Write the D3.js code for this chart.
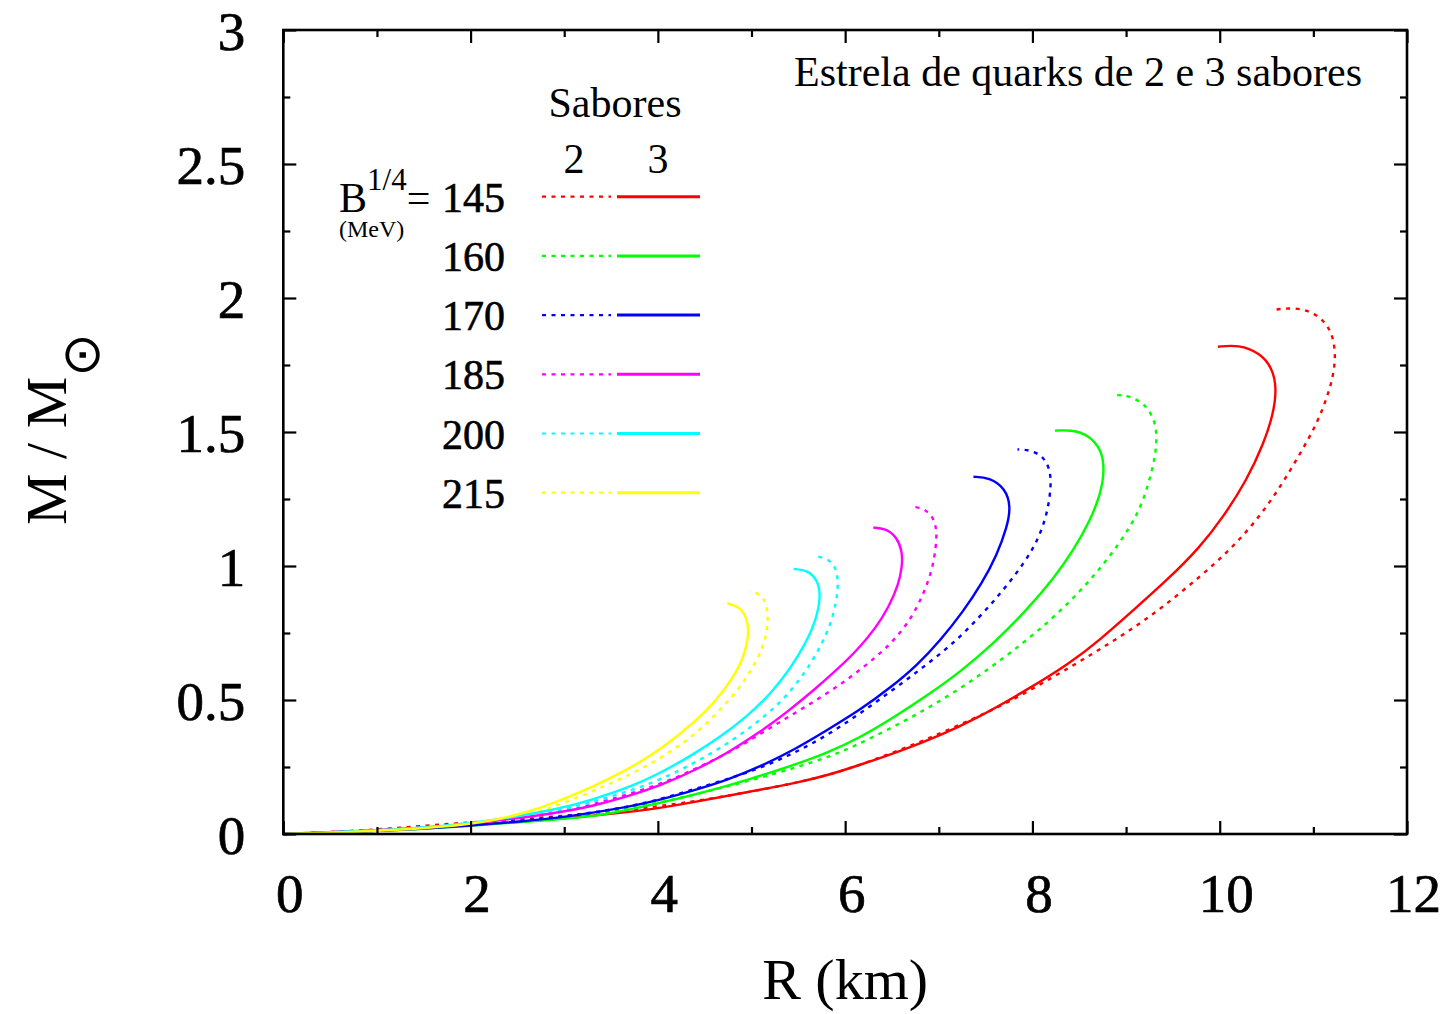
<!DOCTYPE html>
<html>
<head>
<meta charset="utf-8">
<script src="https://cdn.jsdelivr.net/npm/d3@7"></script>
<style>
  html, body { margin: 0; padding: 0; background: #fff; }
  svg { display: block; }
  text { font-family: "Liberation Serif", "Times New Roman", "DejaVu Serif", serif; fill: #000; }
</style>
</head>
<body>
<svg id="chart" width="1451" height="1014"></svg>
<script>
// ---------------- DATA ----------------
const bagValues = [145, 160, 170, 185, 200, 215];
const xTickValues = [0, 2, 4, 6, 8, 10, 12];
const yTickValues = [0, 0.5, 1, 1.5, 2, 2.5, 3];
const yTickLabels = ["0", "0.5", "1", "1.5", "2", "2.5", "3"];

// [R (km), M/Msun] — 3 flavours (solid)
const s3_145 = [[0,0],[1,0.012],[2,0.033],[2.96,0.056],[3.9,0.088],[4.4,0.12],[4.95,0.156],[5.5,0.192],[5.84,0.222],[6.16,0.258],[6.62,0.313],[7.02,0.369],[7.37,0.425],[7.94,0.537],[8.40,0.637],[8.73,0.727],[9.08,0.836],[9.44,0.948],[9.79,1.07],[10.04,1.184],[10.29,1.321],[10.47,1.458],[10.57,1.563],[10.61,1.663],[10.56,1.74],[10.43,1.795],[10.2,1.826],[9.98,1.818]];
const s3_160 = [[0,0],[1,0.01],[2,0.03],[2.96,0.055],[3.38,0.067],[4.02,0.115],[4.52,0.158],[4.95,0.201],[5.45,0.257],[5.81,0.303],[6.16,0.36],[6.52,0.435],[6.91,0.525],[7.23,0.605],[7.59,0.712],[7.94,0.836],[8.23,0.955],[8.44,1.06],[8.62,1.172],[8.73,1.271],[8.77,1.358],[8.74,1.433],[8.6,1.49],[8.41,1.508],[8.24,1.505]];
const s3_170 = [[0,0],[1,0.01],[2,0.03],[2.96,0.06],[3.31,0.08],[3.67,0.10],[4.02,0.127],[4.38,0.162],[4.74,0.201],[5.09,0.251],[5.45,0.313],[5.81,0.388],[6.16,0.463],[6.48,0.545],[6.77,0.63],[7.02,0.724],[7.26,0.83],[7.46,0.935],[7.62,1.04],[7.73,1.147],[7.77,1.221],[7.71,1.29],[7.54,1.330],[7.37,1.333]];
const s3_185 = [[0,0],[1,0.012],[2,0.035],[2.96,0.08],[3.31,0.105],[3.67,0.139],[4.02,0.18],[4.38,0.235],[4.74,0.301],[5.09,0.38],[5.38,0.455],[5.66,0.535],[5.91,0.612],[6.14,0.69],[6.33,0.77],[6.47,0.85],[6.57,0.93],[6.61,1.0],[6.61,1.055],[6.55,1.109],[6.43,1.140],[6.30,1.143]];
const s3_200 = [[0,0],[1,0.012],[2,0.036],[2.96,0.093],[3.31,0.13],[3.67,0.17],[4.02,0.226],[4.38,0.297],[4.67,0.363],[4.95,0.438],[5.21,0.525],[5.42,0.62],[5.58,0.712],[5.69,0.799],[5.74,0.886],[5.71,0.945],[5.60,0.985],[5.45,0.989]];
const s3_215 = [[0,0],[1,0.01],[2,0.033],[2.53,0.071],[2.96,0.125],[3.31,0.177],[3.67,0.239],[4.02,0.313],[4.38,0.413],[4.63,0.50],[4.81,0.587],[4.92,0.662],[4.97,0.736],[4.96,0.799],[4.88,0.848],[4.74,0.861]];

// [R (km), M/Msun] — 2 flavours (dotted)
const s2_145 = [[0,0],[1,0.015],[2,0.045],[3.0,0.066],[3.81,0.094],[4.4,0.122],[4.95,0.155],[5.5,0.192],[5.95,0.232],[6.30,0.276],[6.77,0.338],[7.26,0.413],[7.73,0.488],[8.23,0.587],[8.65,0.674],[9.01,0.752],[9.37,0.84],[9.79,0.96],[10.11,1.06],[10.40,1.172],[10.65,1.296],[10.86,1.42],[11.04,1.532],[11.15,1.632],[11.22,1.719],[11.24,1.806],[11.18,1.893],[11.00,1.949],[10.79,1.965],[10.56,1.955]];
const s2_160 = [[0,0],[1,0.012],[2,0.035],[3.0,0.058],[3.5,0.085],[4.02,0.115],[4.74,0.177],[5.27,0.226],[5.81,0.285],[6.09,0.326],[6.52,0.40],[6.94,0.48],[7.37,0.575],[7.76,0.674],[8.16,0.786],[8.51,0.905],[8.80,1.022],[9.05,1.147],[9.19,1.246],[9.29,1.371],[9.33,1.458],[9.32,1.532],[9.22,1.601],[9.03,1.637],[8.87,1.638]];
const s2_170 = [[0,0],[1,0.012],[2,0.034],[3.0,0.062],[3.81,0.108],[4.24,0.152],[4.66,0.195],[5.09,0.245],[5.45,0.301],[5.81,0.368],[6.16,0.45],[6.52,0.54],[6.84,0.624],[7.16,0.712],[7.44,0.811],[7.69,0.91],[7.91,1.01],[8.06,1.097],[8.16,1.197],[8.20,1.296],[8.19,1.358],[8.12,1.408],[7.98,1.433],[7.84,1.435]];
const s2_185 = [[0,0],[1,0.012],[2,0.037],[3.0,0.08],[3.31,0.112],[3.67,0.146],[4.10,0.195],[4.45,0.251],[4.81,0.313],[5.16,0.388],[5.52,0.463],[5.88,0.54],[6.19,0.62],[6.48,0.705],[6.70,0.799],[6.84,0.898],[6.93,0.985],[6.97,1.072],[6.98,1.134],[6.94,1.184],[6.84,1.215],[6.72,1.221]];
const s2_200 = [[0,0],[1,0.012],[2,0.035],[3.0,0.09],[3.31,0.121],[3.74,0.164],[4.10,0.214],[4.45,0.276],[4.81,0.351],[5.09,0.425],[5.34,0.50],[5.57,0.60],[5.74,0.70],[5.85,0.786],[5.91,0.873],[5.93,0.948],[5.89,1.004],[5.79,1.032],[5.66,1.037]];
const s2_215 = [[0,0],[1,0.01],[2,0.031],[2.6,0.065],[3.10,0.13],[3.46,0.183],[3.81,0.239],[4.17,0.313],[4.45,0.388],[4.70,0.475],[4.91,0.562],[5.06,0.649],[5.15,0.724],[5.18,0.799],[5.16,0.861],[5.09,0.898],[4.98,0.904]];

const series3 = [s3_145, s3_160, s3_170, s3_185, s3_200, s3_215];
const series2 = [s2_145, s2_160, s2_170, s2_185, s2_200, s2_215];

// ---------------- STYLE ----------------
const colors = ["#ff0000", "#00ff00", "#0000ff", "#ff00ff", "#00ffff", "#ffff00"];
const FONT = '"Liberation Serif", "Times New Roman", serif';

const svg = d3.select("#chart");
const pLeft = 283.3, pRight = 1407, pTop = 30, pBottom = 834;

const x = d3.scaleLinear().domain([0, 12]).range([pLeft, pRight]);
const y = d3.scaleLinear().domain([0, 3]).range([pBottom, pTop]);

const line = d3.line()
  .x(d => x(d[0]))
  .y(d => y(d[1]))
  .curve(d3.curveBasis);

// curves
const curves = svg.append("g");
series2.forEach((s, i) => {
  curves.append("path").attr("d", line(s))
    .attr("fill", "none").attr("stroke", colors[i])
    .attr("stroke-width", 2.4).attr("stroke-dasharray", "4,5.5");
});
series3.forEach((s, i) => {
  curves.append("path").attr("d", line(s))
    .attr("fill", "none").attr("stroke", colors[i])
    .attr("stroke-width", 2.4);
});

// axes (ticks inward on all four sides)
const minorX = d3.range(0, 12.01, 1).filter(v => v % 2 !== 0);
const minorY = d3.range(0, 3.01, 0.25).filter(v => Math.abs((v * 2) - Math.round(v * 2)) > 1e-6);

function styleAxis(g) {
  g.select(".domain").remove();
  g.selectAll(".tick line").attr("stroke", "#000").attr("stroke-width", 2.2);
  g.selectAll(".tick text").style("font-family", FONT).style("font-size", "55px")
    .attr("fill", "#000").attr("stroke", "#000").attr("stroke-width", 0.7);
}

const xb = svg.append("g").attr("transform", `translate(0,${pBottom})`)
  .call(d3.axisBottom(x).tickValues(xTickValues).tickSize(-13).tickPadding(39).tickFormat(d3.format("d")));
styleAxis(xb);
xb.selectAll(".tick text").attr("x", 6);
svg.append("g").attr("transform", `translate(0,${pBottom})`)
  .call(d3.axisBottom(x).tickValues(minorX).tickSize(-7).tickFormat("")).call(styleAxis);

svg.append("g").attr("transform", `translate(0,${pTop})`)
  .call(d3.axisTop(x).tickValues(xTickValues).tickSize(-13).tickFormat("")).call(styleAxis);
svg.append("g").attr("transform", `translate(0,${pTop})`)
  .call(d3.axisTop(x).tickValues(minorX).tickSize(-7).tickFormat("")).call(styleAxis);

const yl = svg.append("g").attr("transform", `translate(${pLeft},0)`)
  .call(d3.axisLeft(y).tickValues(yTickValues).tickSize(-13).tickPadding(38)
    .tickFormat((d, i) => yTickLabels[i]));
styleAxis(yl);
yl.selectAll(".tick text").attr("dy", "0.36em");
svg.append("g").attr("transform", `translate(${pLeft},0)`)
  .call(d3.axisLeft(y).tickValues(minorY).tickSize(-7).tickFormat("")).call(styleAxis);

svg.append("g").attr("transform", `translate(${pRight},0)`)
  .call(d3.axisRight(y).tickValues(yTickValues).tickSize(-13).tickFormat("")).call(styleAxis);
svg.append("g").attr("transform", `translate(${pRight},0)`)
  .call(d3.axisRight(y).tickValues(minorY).tickSize(-7).tickFormat("")).call(styleAxis);

// frame
svg.append("rect").attr("x", pLeft).attr("y", pTop)
  .attr("width", pRight - pLeft).attr("height", pBottom - pTop)
  .attr("fill", "none").attr("stroke", "#000").attr("stroke-width", 2.6);

// axis titles
svg.append("text").attr("x", (pLeft + pRight) / 2).attr("y", 999)
  .attr("text-anchor", "middle").style("font-size", "58px").text("R (km)");

const yt = svg.append("text").attr("transform", "translate(66,525) rotate(-90)")
  .attr("x", 0).attr("y", 0).style("font-size", "58px");
yt.append("tspan").text("M / M");
yt.append("tspan").attr("dy", 33).attr("dx", 0)
  .style("font-size", "52px").style("font-family", '"DejaVu Sans", "Liberation Serif", serif').text("\u2299");

// inner title
svg.append("text").attr("x", 1362).attr("y", 86).attr("text-anchor", "end")
  .style("font-size", "42px").text("Estrela de quarks de 2 e 3 sabores");

// legend
const legRow0 = 196.7, legStep = 59.2;
svg.append("text").attr("x", 615).attr("y", 117).attr("text-anchor", "middle")
  .style("font-size", "42px").text("Sabores");
svg.append("text").attr("x", 574).attr("y", 173).attr("text-anchor", "middle")
  .style("font-size", "42px").text("2");
svg.append("text").attr("x", 658).attr("y", 173).attr("text-anchor", "middle")
  .style("font-size", "42px").text("3");

const bt = svg.append("text").attr("x", 339).attr("y", legRow0 + 15).style("font-size", "42px");
bt.append("tspan").text("B");
bt.append("tspan").attr("dy", -22).style("font-size", "31px").text("1/4");
bt.append("tspan").attr("dy", 22).text("=");
svg.append("text").attr("x", 339).attr("y", 237).style("font-size", "24px").text("(MeV)");

bagValues.forEach((b, i) => {
  const yy = legRow0 + i * legStep;
  svg.append("text").attr("x", 505).attr("y", yy + 15).attr("text-anchor", "end")
    .style("font-size", "42px").attr("stroke", "#000").attr("stroke-width", 0.6).text(b);
  svg.append("line").attr("x1", 542).attr("x2", 611).attr("y1", yy).attr("y2", yy)
    .attr("stroke", colors[i]).attr("stroke-width", 2.2).attr("stroke-dasharray", "4,5.5");
  svg.append("line").attr("x1", 617).attr("x2", 700).attr("y1", yy).attr("y2", yy)
    .attr("stroke", colors[i]).attr("stroke-width", 3);
});
</script>
</body>
</html>
